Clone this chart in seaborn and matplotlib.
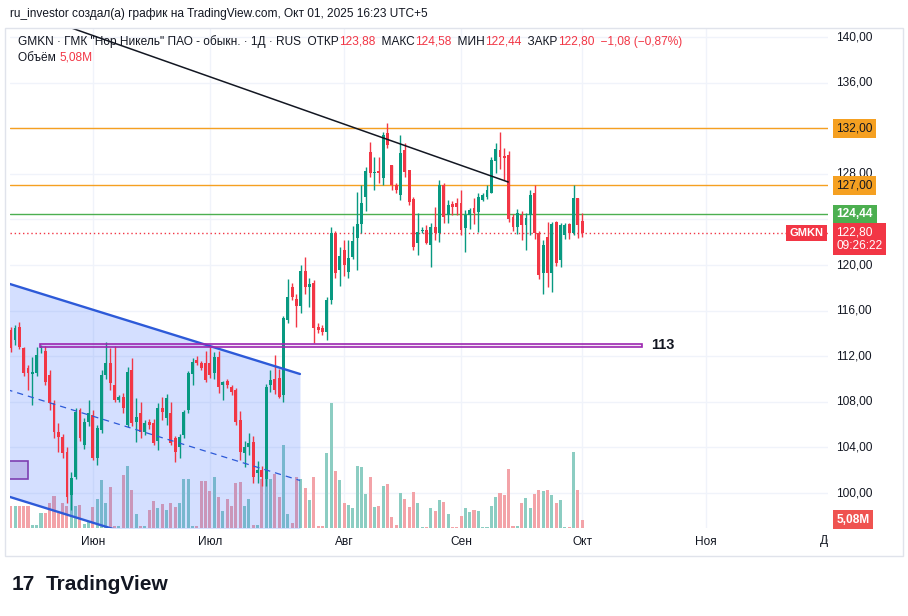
import numpy as np
import pandas as pd
import matplotlib
matplotlib.use("Agg")
import matplotlib.pyplot as plt
import matplotlib.transforms as mtransforms
from matplotlib.patches import Rectangle
import seaborn as sns

# ---------------- data ----------------
opens = [114.3, 113.4, 114.6, 112.7, 111.0, 110.4, 110.5, 112.7, 112.5, 110.35,
         107.9, 105.35, 104.9, 103.6, 99.8, 101.4, 107.3, 104.2, 106.2, 106.8,
         103.1, 105.5, 110.35, 111.4, 109.5, 108.2, 108.4, 106.0, 110.8, 106.2,
         107.0, 105.35, 106.2, 106.1, 104.6, 107.5, 106.6, 107.0, 104.8, 104.0,
         105.1, 107.3, 110.4, 111.7, 111.4, 111.4, 111.4, 110.5, 111.9, 109.5,
         109.8, 109.3, 109.0, 106.4, 103.5, 104.0, 104.5, 101.75, 102.0, 101.2,
         109.5, 110.0, 110.1, 108.6, 115.2, 118.1, 117.0, 116.4, 119.5, 118.1,
         118.4, 114.6, 114.5, 114.1, 116.9, 122.8, 119.6, 121.3, 119.4, 120.7,
         122.4, 123.6, 126.0, 129.9, 128.1, 128.25, 127.6, 131.6, 128.8, 127.0,
         126.1, 130.1, 128.3, 125.8, 121.9, 123.0, 123.1, 121.75, 123.3, 122.8,
         127.0, 124.4, 125.35, 125.4, 125.4, 123.25, 124.4, 125.0, 124.65, 125.7,
         126.0, 126.3, 129.1, 130.1, 129.6, 129.65, 124.2, 123.3, 124.4, 123.5,
         124.4, 126.3, 122.8, 119.3, 122.5, 119.3, 123.8, 120.4, 122.6, 123.6,
         122.8, 125.9, 123.88]
highs = [114.6, 114.7, 115.0, 112.8, 111.2, 111.9, 112.8, 113.0, 112.9, 110.8,
         108.2, 106.1, 105.2, 104.0, 101.8, 107.5, 107.5, 106.6, 108.2, 107.3,
         106.0, 110.8, 113.25, 112.7, 112.9, 108.6, 108.8, 111.05, 111.8, 108.3,
         108.0, 106.4, 106.5, 106.5, 107.9, 108.4, 108.7, 108.0, 105.0, 105.2,
         107.3, 110.7, 111.8, 112.0, 111.6, 112.5, 112.8, 112.4, 112.5, 109.8,
         110.0, 109.5, 109.2, 107.2, 104.6, 105.3, 105.0, 102.8, 102.4, 109.6,
         110.8, 112.1, 110.9, 115.5, 118.8, 118.4, 117.5, 120.0, 120.7, 118.9,
         118.7, 114.9, 114.7, 117.2, 123.3, 123.0, 121.6, 122.2, 122.2, 123.4,
         126.4, 127.0, 128.6, 130.8, 129.5, 129.5, 131.7, 132.5, 128.8, 127.2,
         131.4, 130.7, 128.3, 126.0, 124.6, 123.3, 123.5, 123.7, 125.1, 127.5,
         127.2, 125.7, 125.6, 125.9, 126.6, 124.8, 125.0, 125.9, 126.3, 126.3,
         127.0, 129.5, 130.7, 131.7, 130.3, 130.0, 124.5, 124.9, 124.7, 124.6,
         126.6, 127.0, 123.0, 122.2, 123.8, 123.8, 123.9, 123.7, 123.7, 123.7,
         127.0, 125.9, 124.58]
lows = [112.4, 113.0, 112.6, 110.3, 109.0, 107.7, 110.3, 112.3, 109.5, 107.3,
        104.8, 103.6, 103.1, 99.1, 98.5, 101.2, 104.6, 103.9, 105.9, 102.9,
        102.5, 105.3, 110.0, 109.0, 108.0, 108.0, 107.0, 105.8, 105.9, 104.5,
        104.8, 105.1, 105.6, 104.2, 103.8, 106.4, 106.0, 104.2, 102.7, 103.1,
        104.8, 107.0, 109.5, 111.2, 110.8, 109.7, 110.1, 110.0, 108.8, 108.2,
        109.2, 108.6, 106.0, 102.9, 102.3, 103.3, 100.9, 100.9, 100.6, 100.6,
        108.9, 108.7, 108.3, 108.0, 114.9, 116.9, 114.6, 115.8, 117.5, 116.3,
        113.2, 114.0, 113.9, 113.4, 116.6, 118.9, 118.2, 119.0, 118.9, 120.5,
        119.6, 122.8, 124.7, 127.7, 126.6, 127.2, 127.0, 130.3, 126.6, 126.3,
        125.7, 127.7, 125.3, 121.3, 120.9, 122.8, 121.8, 119.8, 122.2, 122.0,
        123.7, 123.7, 124.4, 124.4, 122.6, 121.1, 123.2, 123.6, 122.9, 125.6,
        125.8, 126.3, 128.1, 128.4, 127.5, 123.8, 123.0, 122.7, 122.2, 121.3,
        122.6, 122.3, 118.8, 117.5, 118.1, 117.6, 119.9, 119.8, 122.3, 122.3,
        122.6, 122.4, 122.44]
closes = [112.7, 114.5, 112.8, 110.5, 110.5, 110.6, 112.1, 112.8, 109.7, 107.9,
          105.35, 104.9, 103.5, 99.65, 101.3, 107.1, 104.8, 106.2, 107.0, 103.1,
          105.7, 110.35, 111.4, 109.65, 108.2, 108.4, 107.5, 110.6, 106.1, 106.7,
          105.35, 106.1, 106.0, 104.4, 107.5, 107.1, 108.3, 104.4, 103.6, 104.9,
          107.1, 110.5, 111.5, 111.4, 111.0, 109.9, 110.35, 111.9, 109.3, 109.7,
          109.5, 108.9, 106.2, 103.6, 104.0, 104.4, 101.4, 102.0, 101.4, 109.3,
          109.9, 109.0, 108.4, 115.35, 117.2, 117.2, 116.4, 119.5, 118.1, 118.3,
          114.5, 114.3, 114.1, 116.9, 122.8, 119.3, 120.8, 120.0, 120.6, 122.1,
          123.6, 125.4, 128.25, 128.1, 128.2, 128.1, 131.4, 130.5, 127.0, 126.6,
          129.8, 128.2, 125.5, 121.6, 122.9, 123.1, 121.9, 123.3, 122.8, 127.0,
          124.2, 125.3, 125.1, 125.1, 123.1, 124.4, 124.8, 124.6, 126.0, 126.1,
          126.6, 129.2, 130.2, 129.5, 129.4, 124.0, 123.3, 124.6, 123.5, 124.1,
          126.1, 122.8, 119.1, 121.75, 119.3, 123.6, 120.2, 123.5, 123.5, 122.8,
          125.9, 123.5, 122.80]
volumes_m = [13.5, 13.5, 13.5, 13.5, 13.5, 1.8, 1.8, 9.2, 9.2, 15.3,
             19.6, 9.2, 15.3, 13.5, 24.5, 13.5, 14.1, 2.4, 4.3, 12.9,
             17.7, 29.4, 15.3, 25.1, 1.2, 1.2, 32.4, 37.9, 23.3, 8.6,
             1.2, 1.2, 11.0, 16.5, 12.2, 14.7, 11.0, 15.3, 12.9, 15.3,
             30.0, 30.0, 1.2, 1.2, 28.8, 28.8, 22.6, 31.2, 19.0, 10.4,
             17.7, 13.5, 27.5, 28.2, 13.5, 17.7, 1.8, 1.8, 30.0, 30.0,
             30.0, 33.0, 18.8, 51.0, 8.6, 2.9, 31.4, 30.0, 24.3, 17.3,
             31.0, 1.0, 1.0, 45.7, 76.3, 34.7, 29.6, 15.1, 14.3, 12.0,
             38.1, 37.5, 20.8, 31.4, 12.6, 13.7, 25.9, 26.9, 6.5, 2.0,
             21.6, 17.9, 13.1, 22.2, 15.5, 0.8, 0.8, 12.4, 10.4, 17.3,
             15.9, 8.6, 0.8, 0.8, 7.5, 12.0, 10.0, 11.2, 10.6, 0.8,
             0.8, 13.7, 19.2, 21.6, 20.0, 36.1, 1.4, 1.4, 15.5, 18.2,
             12.0, 21.0, 23.5, 22.8, 23.5, 20.4, 15.5, 17.3, 0.8, 0.8,
             46.7, 23.5, 5.08]

month_labels = ["Июн", "Июл", "Авг", "Сен", "Окт", "Ноя", "Дек"]
month_positions = [19, 46, 77, 104, 132, 160.6, 189.2]
price_ticks = [100, 104, 108, 112, 116, 120, 124, 128, 132, 136, 140]

orange_levels = [132.00, 127.00]
green_level = 124.44
last_close = 122.80
zone_113_x = [6.8, 145.8]
zone_113_y = [112.8, 113.1]
small_box_x = [-3.0, 4.0]
small_box_y = [101.2, 102.8]
trend_x = [8.0, 114.9]
trend_y = [141.6, 127.28]
channel_x = [-1.0, 66.8]
channel_upper = [118.43, 110.44]
channel_lower = [99.75, 91.76]
channel_mid = [109.09, 101.10]

# ---------------- style ----------------
sns.set_theme(style="white")
plt.rcParams["font.family"] = ["Liberation Sans", "DejaVu Sans"]

GREEN = "#089981"
RED = "#f23645"
VOL_GREEN = "#8ccdc2"
VOL_RED = "#f3a3a8"
ORANGE = "#f5a021"
LEVEL_GREEN = "#4caf50"
BLUE = "#2d5ad8"
TXT = "#131722"
GRID = "#f0f3fa"
PURPLE = "#9c27b0"
FS = 8.6

W, H = 908, 616
fig = plt.figure(figsize=(W / 100, H / 100), dpi=100)
fig.patch.set_facecolor("white")


def frect(x0, y0, x1, y1):
    return [x0 / W, 1 - y1 / H, (x1 - x0) / W, (y1 - y0) / H]


XLIM = (-0.16, 188.75)
YLIM = (96.93, 140.79)

ax_vol = fig.add_axes(frect(10, 28, 828, 528), zorder=0)
ax = fig.add_axes(frect(10, 28, 828, 528), zorder=1)
ax.patch.set_alpha(0)

idx = np.arange(len(opens))
o = np.array(opens)
c = np.array(closes)
hi = np.array(highs)
lo = np.array(lows)
up = c >= o

# ---- volume (seaborn) ----
df = pd.DataFrame({"idx": idx, "volume": volumes_m,
                   "dir": np.where(up, "up", "down")})
sns.barplot(data=df, x="idx", y="volume", hue="dir",
            palette={"up": VOL_GREEN, "down": VOL_RED},
            native_scale=True, width=0.7, dodge=False, errorbar=None,
            legend=False, saturation=1, linewidth=0, ax=ax_vol)
ax_vol.set_xlim(*XLIM)
ax_vol.set_ylim(0, 306)
ax_vol.set_axis_off()

ax.set_xlim(*XLIM)
ax.set_ylim(*YLIM)

# grid behind volume
for t in price_ticks:
    ax_vol.plot(XLIM, [t, t], transform=ax.transData, color=GRID, lw=1, zorder=0)
for m in month_positions[:-1]:
    ax_vol.axvline(m, color=GRID, lw=1, zorder=0)

# ---- channel ----
ax.fill_between(channel_x, channel_lower, channel_upper, color="#2962ff",
                alpha=0.2, lw=0, zorder=2)
ax.plot(channel_x, channel_upper, color=BLUE, lw=1.7, zorder=6)
ax.plot(channel_x, channel_lower, color=BLUE, lw=1.7, zorder=6)
ax.plot(channel_x, channel_mid, color=BLUE, lw=0.9, ls=(0, (5, 4)), zorder=6)

# ---- levels ----
for lv in orange_levels:
    ax.axhline(lv, color=ORANGE, lw=1, zorder=3)
ax.axhline(green_level, color=LEVEL_GREEN, lw=1, zorder=3)
ax.axhline(last_close, color=RED, lw=1, ls=(0, (1, 2)), zorder=3)

# ---- candles ----
cols = np.where(up, GREEN, RED)
ax.vlines(idx, lo, hi, colors=cols, lw=1, zorder=4)
body = np.maximum(np.abs(c - o), 0.09)
ax.bar(idx, body, bottom=np.minimum(o, c), width=0.68, color=cols,
       linewidth=0, zorder=5)

# ---- drawings ----
ax.plot(trend_x, trend_y, color=TXT, lw=1.1, zorder=6)
ax.add_patch(Rectangle((zone_113_x[0], zone_113_y[0]),
                       zone_113_x[1] - zone_113_x[0],
                       zone_113_y[1] - zone_113_y[0],
                       fc=(0.61, 0.15, 0.69, 0.10), ec=PURPLE, lw=1.2, zorder=6))
ax.text(zone_113_x[1] + 2.1, np.mean(zone_113_y), "113", fontsize=10.5,
        fontweight="bold", color=TXT, va="center", ha="left", zorder=7)
ax.add_patch(Rectangle((small_box_x[0], small_box_y[0]),
                       small_box_x[1] - small_box_x[0],
                       small_box_y[1] - small_box_y[0],
                       fc=(0.58, 0.46, 0.80, 0.35), ec="#7e3fb0", lw=1.2, zorder=6))

# GMKN badge on right edge of the pane
bt = mtransforms.blended_transform_factory(ax.transAxes, ax.transData)
ax.text(0.9945, last_close, "GMKN", transform=bt, ha="right", va="center",
        fontsize=8, fontweight="bold", color="white", zorder=10,
        bbox=dict(boxstyle="square,pad=0.3", fc=RED, ec="none"))

# ---- time axis ----
ax.set_xticks(month_positions[:-1])
ax.set_xticklabels(month_labels[:-1], fontsize=FS, color=TXT)
ax.tick_params(axis="x", length=0, pad=6)
ax.set_yticks([])
for s in ax.spines.values():
    s.set_visible(False)
tx = mtransforms.blended_transform_factory(ax.transData, ax.transAxes)
ax.text(month_positions[-1], -0.026, month_labels[-1], transform=tx,
        ha="center", va="center", fontsize=FS, color=TXT, clip_on=False)

# ---- price scale ----
ax_s = fig.add_axes(frect(828, 28, 905, 556), zorder=5)
ylo2 = YLIM[1] - (YLIM[1] - YLIM[0]) * 528 / 500
ax_s.set_ylim(ylo2, YLIM[1])
ax_s.set_xlim(0, 1)
ax_s.set_xticks([])
ax_s.set_yticks([])
for s in ax_s.spines.values():
    s.set_visible(False)
ax_s.patch.set_facecolor("white")


def fmt(v):
    return f"{v:.2f}".replace(".", ",")


LX = 0.11
badge_levels = orange_levels + [green_level]
for t in price_ticks:
    if any(abs(t - b) < 1.0 for b in badge_levels):
        continue
    ax_s.text(LX, t, fmt(t), fontsize=FS, color=TXT, va="center", ha="left")
for lv in orange_levels:
    ax_s.text(LX, lv, fmt(lv), fontsize=FS, color=TXT, va="center", ha="left",
              zorder=5, bbox=dict(boxstyle="square,pad=0.3", fc=ORANGE, ec="none"))
ax_s.text(LX, green_level, fmt(green_level), fontsize=FS, color="white",
          fontweight="bold", va="center", ha="left", zorder=5,
          bbox=dict(boxstyle="square,pad=0.3", fc=LEVEL_GREEN, ec="none"))
ax_s.text(LX, last_close + 0.55, fmt(last_close) + "\n09:26:22", fontsize=FS,
          color="white", va="top", ha="left", linespacing=1.1, zorder=6,
          bbox=dict(boxstyle="square,pad=0.3", fc=RED, ec="none"))
vol_t = mtransforms.blended_transform_factory(ax_s.transAxes, ax_vol.transData)
ax_s.text(LX, volumes_m[-1], "5,08M", transform=vol_t, fontsize=FS,
          color="white", fontweight="bold", va="center", ha="left", zorder=6,
          bbox=dict(boxstyle="square,pad=0.3", fc="#ef5350", ec="none"))

# ---- frame ----
fig.add_artist(Rectangle((5 / W, 1 - 556 / H), 898 / W, 528 / H,
                         transform=fig.transFigure, fill=False,
                         ec="#e0e3eb", lw=1, zorder=10))

# ---- header texts ----
fig.text(10 / W, 1 - 14 / H,
         "ru_investor создал(а) график на TradingView.com, Окт 01, 2025 16:23 UTC+5",
         fontsize=FS, color=TXT, va="center", ha="left")

pieces = [("GMKN · ГМК \"Нор.Никель\" ПАО - обыкн. · 1Д · RUS  ОТКР", TXT),
          ("123,88", RED), ("  МАКС", TXT), ("124,58", RED), ("  МИН", TXT),
          ("122,44", RED), ("  ЗАКР", TXT), ("122,80", RED),
          ("  −1,08 (−0,87%)", RED)]
prev = fig.text(18 / W, 1 - 42 / H, pieces[0][0], fontsize=FS, color=pieces[0][1],
                va="center", ha="left", zorder=12)
for txt, col in pieces[1:]:
    prev = ax.annotate(txt, xy=(1, 0.5), xycoords=prev, va="center", ha="left",
                       fontsize=FS, color=col, annotation_clip=False, zorder=12)
t2 = fig.text(18 / W, 1 - 58 / H, "Объём ", fontsize=FS, color=TXT,
              va="center", ha="left", zorder=12)
ax.annotate("5,08M", xy=(1, 0.5), xycoords=t2, va="center", ha="left",
            fontsize=FS, color=RED, annotation_clip=False, zorder=12)

# ---- logo ----
fig.text(12 / W, 1 - 585 / H, "17", fontsize=15, fontweight="heavy",
         color=TXT, va="center", ha="left")
fig.text(46 / W, 1 - 585 / H, "TradingView", fontsize=15, fontweight="bold",
         color=TXT, va="center", ha="left")

fig.savefig("out.png", dpi=100, facecolor="white")
